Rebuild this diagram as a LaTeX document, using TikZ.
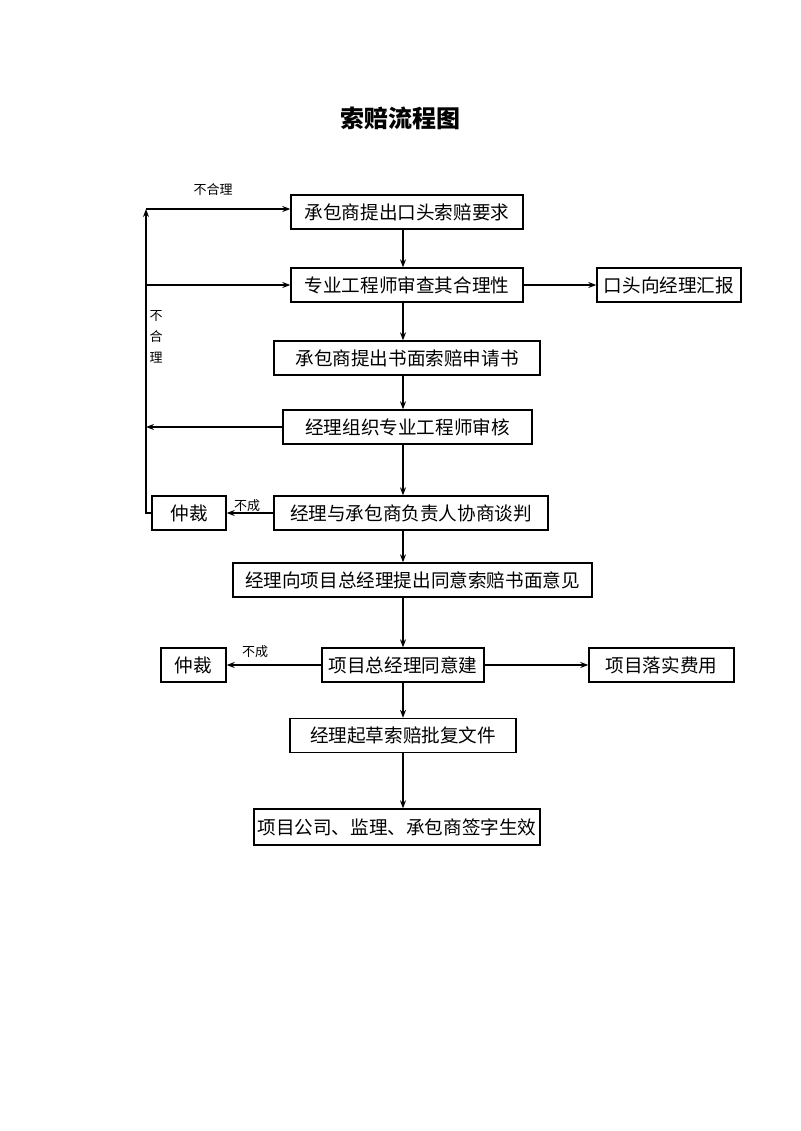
\documentclass[tikz,border=0pt]{standalone}
\usepackage{fontspec}
\newfontfamily\cjk{Noto Sans CJK SC}
\usetikzlibrary{arrows.meta}

\tikzset{
  box/.style={draw, line width=0.7pt, inner sep=0pt, minimum height=17pt,
    font=\cjk\fontsize{9.3}{9.3}\selectfont},
  arr/.style={line width=0.6pt, -{Stealth[length=4pt,width=3pt]}},
  ln/.style={line width=0.6pt},
  lbl/.style={font=\cjk\fontsize{6.5}{7.5}\selectfont, inner sep=0pt}
}

\begin{document}
\begin{tikzpicture}[x=0.5pt,y=-0.5pt]
\useasboundingbox (0,0) rectangle (800,1131);
\node[font=\cjk\bfseries\fontsize{12}{12}\selectfont] (title) at (400,118) {索赔流程图};

% main column
\node[box, minimum width=116pt] (claim) at (407,212) {承包商提出口头索赔要求};
\node[box, minimum width=116pt] (check) at (407,285) {专业工程师审查其合理性};
\node[box, minimum width=72pt] (report) at (669,285) {口头向经理汇报};
\node[box, minimum width=133pt] (written) at (407,358) {承包商提出书面索赔申请书};
\node[box, minimum width=124.5pt] (review) at (407.5,427) {经理组织专业工程师审核};
\node[box, minimum width=137pt] (talk) at (411,513) {经理与承包商负责人协商谈判};
\node[box, minimum width=37pt] (arb1) at (189,513) {仲裁};
\node[box, minimum width=179.5pt] (opinion) at (412.5,580) {经理向项目总经理提出同意索赔书面意见};
\node[box, minimum width=81pt] (agree) at (403,665) {项目总经理同意建};
\node[box, minimum width=32.5pt] (arb2) at (193.5,665) {仲裁};
\node[box, minimum width=72.5pt] (cost) at (661.5,665) {项目落实费用};
\node[box, minimum width=113pt] (draft) at (403,735.5) {经理起草索赔批复文件};
\node[box, minimum width=143pt, minimum height=18pt] (sign) at (397,827) {项目公司、监理、承包商签字生效};

\coordinate (spine) at (403,0);
\coordinate (back) at (146,0);

% downward arrows
\draw[arr] (claim.south -| spine) -- (check.north -| spine);
\draw[arr] (check.south -| spine) -- (written.north -| spine);
\draw[arr] (written.south -| spine) -- (review.north -| spine);
\draw[arr] (review.south -| spine) -- (talk.north -| spine);
\draw[arr] (talk.south -| spine) -- (opinion.north -| spine);
\draw[arr] (opinion.south -| spine) -- (agree.north -| spine);
\draw[arr] (agree.south -| spine) -- (draft.north -| spine);
\draw[arr] (draft.south -| spine) -- (sign.north -| spine);

% side arrows
\draw[arr] (check.east) -- (report.west);
\draw[arr] (talk.west) -- (arb1.east);
\draw[arr] (agree.west) -- (arb2.east);
\draw[arr] (agree.east) -- (cost.west);

% feedback loop
\coordinate (top) at (146,209);
\draw[arr] (arb1.west) -- (arb1.west -| back) -- (top);
\draw[arr] (top) -- (claim.west |- top);
\draw[arr] (check.west -| back) -- (check.west);
\draw[arr] (review.west) -- (review.west -| back);

% labels
\node[lbl] (n1) at (213,190) {不合理};
\node[lbl, align=center, font=\cjk\fontsize{6.5}{10.5}\selectfont] (n2) at (156,337) {不\\合\\理};
\node[lbl] (n3) at (247,506) {不成};
\node[lbl] (n4) at (255,652) {不成};
\end{tikzpicture}
\end{document}
